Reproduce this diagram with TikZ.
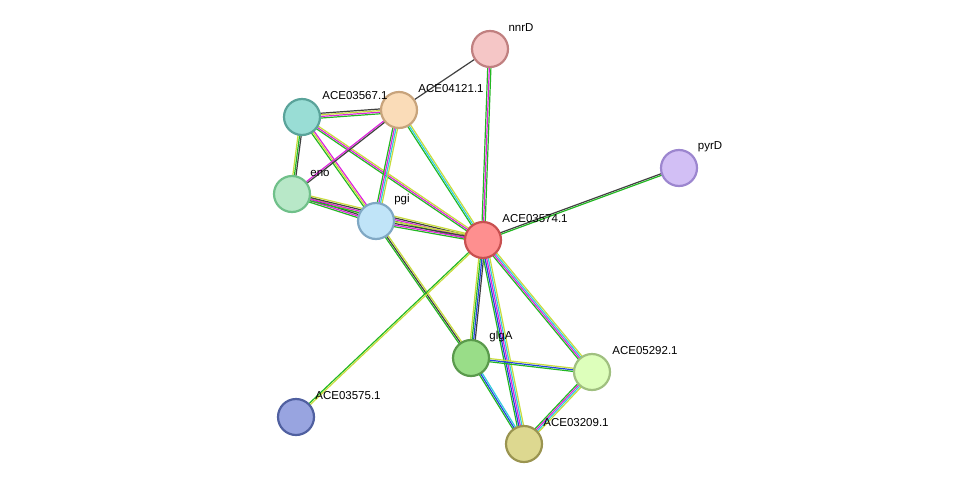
\documentclass[tikz,border=0pt]{standalone}
\usepackage{fontspec}
\setmainfont{Liberation Sans}
\usetikzlibrary{calc}
\definecolor{eG}{HTML}{22B822}
\definecolor{eM}{HTML}{DD22DD}
\definecolor{eY}{HTML}{C8DC3C}
\definecolor{eK}{HTML}{404040}
\definecolor{eB}{HTML}{2244DD}
\definecolor{eC}{HTML}{33CCDD}
\tikzset{
 prot/.style={circle,minimum size=36pt,inner sep=0pt,line width=2.2pt},
 lab/.style={font=\fontsize{11.5}{12}\selectfont,inner sep=0pt},
}
\newcommand{\medge}[3]{%
 \foreach \c [count=\i] in {#3} {\xdef\nn{\i}}%
 \foreach \c [count=\i] in {#3} {%
  \pgfmathsetmacro{\off}{(\i-(\nn+1)/2)*1.6}%
  \draw[draw=\c,line width=1.2pt] ($(#1)!\off pt!90:(#2)$) -- ($(#2)!\off pt!-90:(#1)$);}%
}
\begin{document}
\begin{tikzpicture}[x=1pt,y=-1pt]
\useasboundingbox (0,0) rectangle (976,490);
\coordinate (nnrD) at (490,49);
\coordinate (pyrD) at (679,168);
\coordinate (a67) at (302,117);
\coordinate (a21) at (399,110);
\coordinate (eno) at (292,194);
\coordinate (pgi) at (376,221);
\coordinate (a74) at (483,240);
\coordinate (glgA) at (471,358);
\coordinate (a92) at (592,372);
\coordinate (a75) at (296,417);
\coordinate (a09) at (524,444);
\medge{nnrD}{a21}{eK}
\medge{nnrD}{a74}{eG,eM,eG}
\medge{pyrD}{a74}{eK,eG}
\medge{a67}{a21}{eG,eM,eY,eK}
\medge{a67}{eno}{eY,eG,eK}
\medge{a67}{pgi}{eG,eY,eM}
\medge{a67}{a74}{eG,eM,eY}
\medge{a21}{eno}{eM,eK}
\medge{a21}{pgi}{eG,eM,eC,eY}
\medge{a21}{a74}{eG,eC,eY}
\medge{eno}{pgi}{eG,eM,eK,eY}
\medge{eno}{a74}{eG,eM,eK,eY}
\medge{pgi}{a74}{eG,eM,eK,eY}
\medge{pgi}{glgA}{eG,eK,eY}
\medge{a74}{glgA}{eY,eG,eB,eK}
\medge{a74}{a92}{eG,eM,eC,eY}
\medge{a74}{a09}{eG,eB,eM,eC,eY}
\medge{a74}{a75}{eG,eY}
\medge{glgA}{a92}{eG,eB,eY}
\medge{glgA}{a09}{eG,eB,eC}
\medge{a92}{a09}{eG,eM,eC,eY}
\node[prot,fill={rgb,255:red,245;green,198;blue,198},draw={rgb,255:red,192;green,128;blue,128}] (n1) at (nnrD) {};
\node[prot,fill={rgb,255:red,210;green,191;blue,245},draw={rgb,255:red,156;green,134;blue,207}] (n2) at (pyrD) {};
\node[prot,fill={rgb,255:red,153;green,221;blue,213},draw={rgb,255:red,90;green,163;blue,154}] (n3) at (a67) {};
\node[prot,fill={rgb,255:red,250;green,220;blue,184},draw={rgb,255:red,200;green,164;blue,124}] (n4) at (a21) {};
\node[prot,fill={rgb,255:red,184;green,232;blue,200},draw={rgb,255:red,112;green,192;blue,138}] (n5) at (eno) {};
\node[prot,fill={rgb,255:red,192;green,228;blue,248},draw={rgb,255:red,128;green,168;blue,196}] (n6) at (pgi) {};
\node[prot,fill={rgb,255:red,254;green,143;blue,143},draw={rgb,255:red,200;green,80;blue,80}] (n7) at (a74) {};
\node[prot,fill={rgb,255:red,153;green,221;blue,136},draw={rgb,255:red,90;green,154;blue,76}] (n8) at (glgA) {};
\node[prot,fill={rgb,255:red,221;green,255;blue,187},draw={rgb,255:red,160;green,192;blue,128}] (n9) at (a92) {};
\node[prot,fill={rgb,255:red,152;green,164;blue,224},draw={rgb,255:red,80;green,96;blue,160}] (n10) at (a75) {};
\node[prot,fill={rgb,255:red,221;green,216;blue,144},draw={rgb,255:red,154;green,148;blue,80}] (n11) at (a09) {};
\node[lab] (l1) at (521,28) {nnrD};
\node[lab] (l2) at (710,147) {pyrD};
\node[lab] (l3) at (355,96) {ACE03567.1};
\node[lab] (l4) at (451,89) {ACE04121.1};
\node[lab] (l5) at (320,173) {eno};
\node[lab] (l6) at (402,200) {pgi};
\node[lab] (l7) at (535,219) {ACE03574.1};
\node[lab] (l8) at (501,337) {glgA};
\node[lab] (l9) at (645,351) {ACE05292.1};
\node[lab] (l10) at (348,396) {ACE03575.1};
\node[lab] (l11) at (576,423) {ACE03209.1};
\end{tikzpicture}
\end{document}
